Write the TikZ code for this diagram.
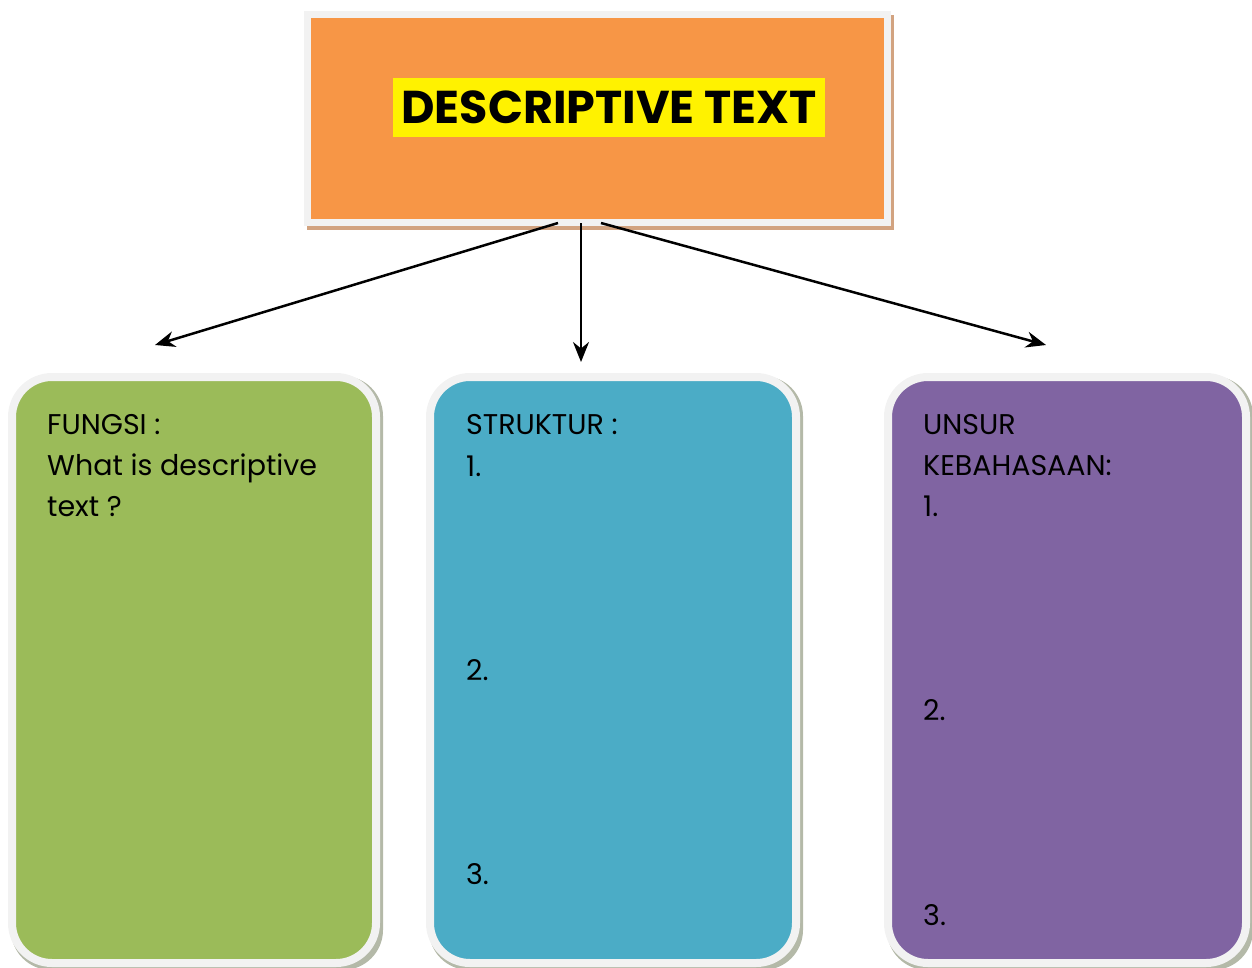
\documentclass[tikz,border=0pt]{standalone}
\usepackage{fontspec}
\setmainfont{Poppins}
\usetikzlibrary{calc,arrows.meta}
\definecolor{frame}{HTML}{F2F2F2}
\definecolor{orng}{HTML}{F79646}
\definecolor{grn}{HTML}{9BBB59}
\definecolor{blu}{HTML}{4BACC6}
\definecolor{purp}{HTML}{8064A2}
\definecolor{tan}{HTML}{D2A380}
\definecolor{shd}{HTML}{B4B9A8}
\tikzset{
  panel/.style={draw=frame, line width=8pt, rounded corners=40pt},
  panelshadow/.style={fill=shd, rounded corners=40pt, inner sep=0pt},
  titlebox/.style={draw=frame, line width=7pt, fill=orng},
  lbl/.style={anchor=base west, inner sep=0pt, font=\fontsize{28.5}{41}\selectfont},
  conn/.style={line width=2.5pt, -{Stealth[length=20pt, width=16pt]}}
}
\begin{document}
\begin{tikzpicture}[x=1pt, y=-1pt]
\useasboundingbox (0,0) rectangle (1252,967);
% title
\node[titlebox, minimum width=580pt, minimum height=208pt] (title) at (597,118) {};
\fill[tan] ($(title.south west)+(3,4)$) rectangle ($(title.south east)+(3,0)$);
\fill[tan] ($(title.north east)+(0,4)$) rectangle ($(title.south east)+(3,4)$);
\node[fill=yellow, minimum width=432pt, minimum height=59pt, inner sep=0pt,
  font=\fontsize{46}{50}\selectfont\bfseries] (titletext) at (609,107.5) {DESCRIPTIVE TEXT};
% panel shadows
\node[panelshadow, minimum width=372pt, minimum height=594pt] (fsh) at (197,673) {};
\node[panelshadow, minimum width=374pt, minimum height=594pt] (ssh) at (616,673) {};
\node[panelshadow, minimum width=366pt, minimum height=594pt] (ush) at (1070,673) {};
% panels
\node[panel, fill=grn, minimum width=364pt, minimum height=586pt] (fungsi) at (194,670) {};
\node[panel, fill=blu, minimum width=366pt, minimum height=586pt] (struktur) at (613,670) {};
\node[panel, fill=purp, minimum width=358pt, minimum height=586pt] (unsur) at (1067,670) {};
% texts
\node[lbl] (f1) at (47,434) {FUNGSI :};
\node[lbl] (f2) at (47,475) {What is descriptive};
\node[lbl] (f3) at (47,516) {text ?};
\node[lbl] (s1) at (466,434) {STRUKTUR :};
\node[lbl] (s2) at (466,476) {1.};
\node[lbl] (s3) at (466,680) {2.};
\node[lbl] (s4) at (466,884) {3.};
\node[lbl] (u1) at (923,434) {UNSUR};
\node[lbl] (u2) at (923,475) {KEBAHASAAN:};
\node[lbl] (u3) at (923,516) {1.};
\node[lbl] (u4) at (923,720) {2.};
\node[lbl] (u5) at (923,925) {3.};
% connectors
\coordinate (a1s) at (558,223);
\coordinate (a2s) at (581,223);
\coordinate (a3s) at (601,223);
\coordinate (a1e) at (155,345);
\coordinate (a2e) at (581,362);
\coordinate (a3e) at (1046,345);
\draw[conn] (a1s) -- (a1e);
\draw[conn] (a2s) -- (a2e);
\draw[conn] (a3s) -- (a3e);
\end{tikzpicture}
\end{document}
